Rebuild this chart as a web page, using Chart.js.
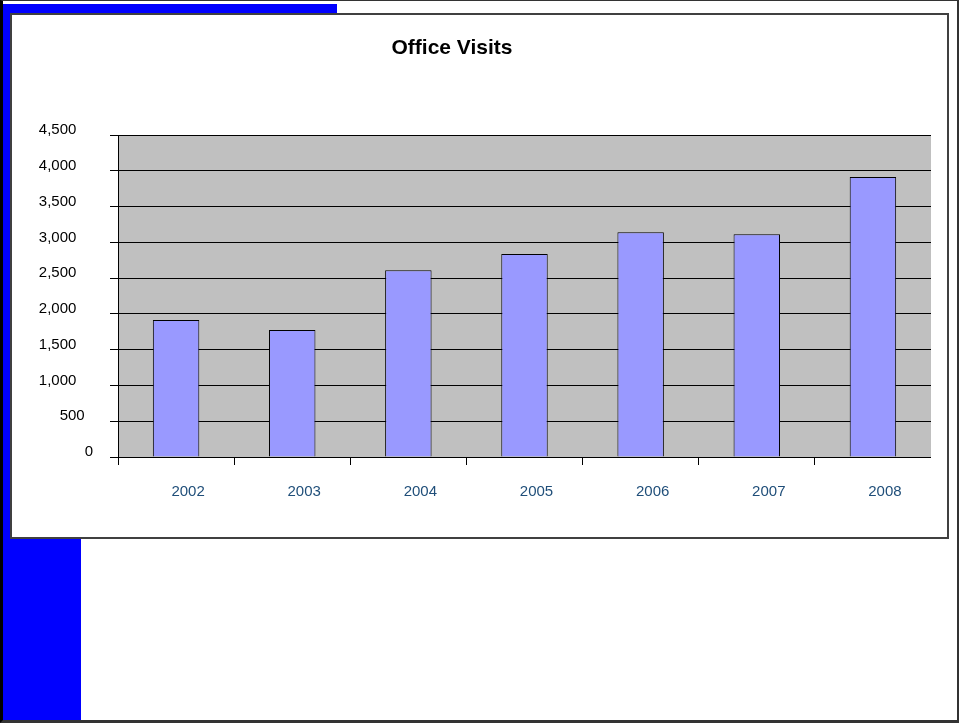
<!DOCTYPE html>
<html>
<head>
<meta charset="utf-8">
<title>Office Visits</title>
<script src="https://cdn.jsdelivr.net/npm/chart.js@4.4.1/dist/chart.umd.min.js"></script>
<style>
  html, body { margin: 0; padding: 0; background: #fff; overflow: hidden; }
  #page { position: relative; width: 959px; height: 723px; }
  .frame { position: absolute; left: 0; top: 0; width: 959px; height: 723px; box-sizing: border-box;
           border-left: 3px solid #000; border-top: 1px solid #333; border-right: 2px solid #333; border-bottom: 3px solid #333; }
  .blue-top { position: absolute; left: 3px; top: 4px; width: 334px; height: 10px; background: #0000ff; }
  .blue-left { position: absolute; left: 3px; top: 4px; width: 78px; height: 716px; background: #0000ff; }
  .box { position: absolute; left: 10px; top: 13px; width: 939px; height: 526px; box-sizing: border-box;
         border: 2px solid #404040; background: #fff; }
  #wrap { position: absolute; left: -27px; top: 0; width: 958px; height: 723px; }
</style>
</head>
<body>
<div id="page">
  <div class="frame"></div>
  <div class="blue-top"></div>
  <div class="blue-left"></div>
  <div class="box"></div>
  <div id="wrap"><canvas id="visits"></canvas></div>
</div>
<script>
const years = ['2002', '2003', '2004', '2005', '2006', '2007', '2008'];
const visits = [1915, 1775, 2613, 2837, 3144, 3116, 3917];
const yTickLabels = ['0', '500', '1,000', '1,500', '2,000', '2,500', '3,000', '3,500', '4,000', '4,500'];

// grey plot background like the old spreadsheet chart
const plotBackground = {
  id: 'plotBackground',
  beforeDraw(chart) {
    const { ctx, chartArea: a } = chart;
    ctx.save();
    ctx.fillStyle = '#c0c0c0';
    ctx.fillRect(a.left, a.top, a.right - a.left, a.bottom - a.top);
    ctx.strokeStyle = '#9a9a9a';
    ctx.beginPath();
    ctx.moveTo(a.right + 0.5, a.top);
    ctx.lineTo(a.right + 0.5, a.bottom);
    ctx.stroke();
    ctx.restore();
  }
};

// the short labels sit further right than the ones with a comma
function padLabel(s) {
  if (s.length >= 5) return s + '    ';
  if (s.length === 3) return s + '  ';
  return s;
}

const font = "'Liberation Sans', Arial, sans-serif";

new Chart(document.querySelector('#visits'), {
  type: 'bar',
  data: {
    labels: years,
    datasets: [{
      label: 'Office Visits',
      data: visits,
      backgroundColor: '#9999ff',
      borderColor: '#000',
      borderWidth: 1,
      categoryPercentage: 1,
      barPercentage: 0.4
    }]
  },
  options: {
    responsive: true,
    maintainAspectRatio: false,
    animation: false,
    layout: { padding: { left: 0, right: 0, top: 0, bottom: 0 } },
    plugins: {
      legend: { display: false },
      tooltip: { enabled: false },
      title: {
        display: true,
        text: 'Office Visits',
        color: '#000',
        font: { family: font, size: 21, weight: 'bold' },
        padding: { top: 36, bottom: 74 }
      }
    },
    scales: {
      x: {
        grid: { display: true, drawOnChartArea: false, offset: true, color: '#000', tickLength: 8 },
        border: { display: true, color: '#000' },
        ticks: { color: '#1f4e79', font: { family: font, size: 15 }, padding: 18, labelOffset: 12, maxRotation: 0 },
        afterFit(scale) { scale.height = 266; }
      },
      y: {
        min: 0,
        max: 4500,
        grid: { color: '#000', tickLength: 8 },
        border: { display: true, color: '#000' },
        ticks: {
          stepSize: 500,
          color: '#000',
          font: { family: font, size: 15 },
          padding: 17,
          labelOffset: -5,
          callback: (v, i) => padLabel(yTickLabels[i])
        },
        afterFit(scale) { scale.width = 145; }
      }
    }
  },
  plugins: [plotBackground]
});
</script>
</body>
</html>
